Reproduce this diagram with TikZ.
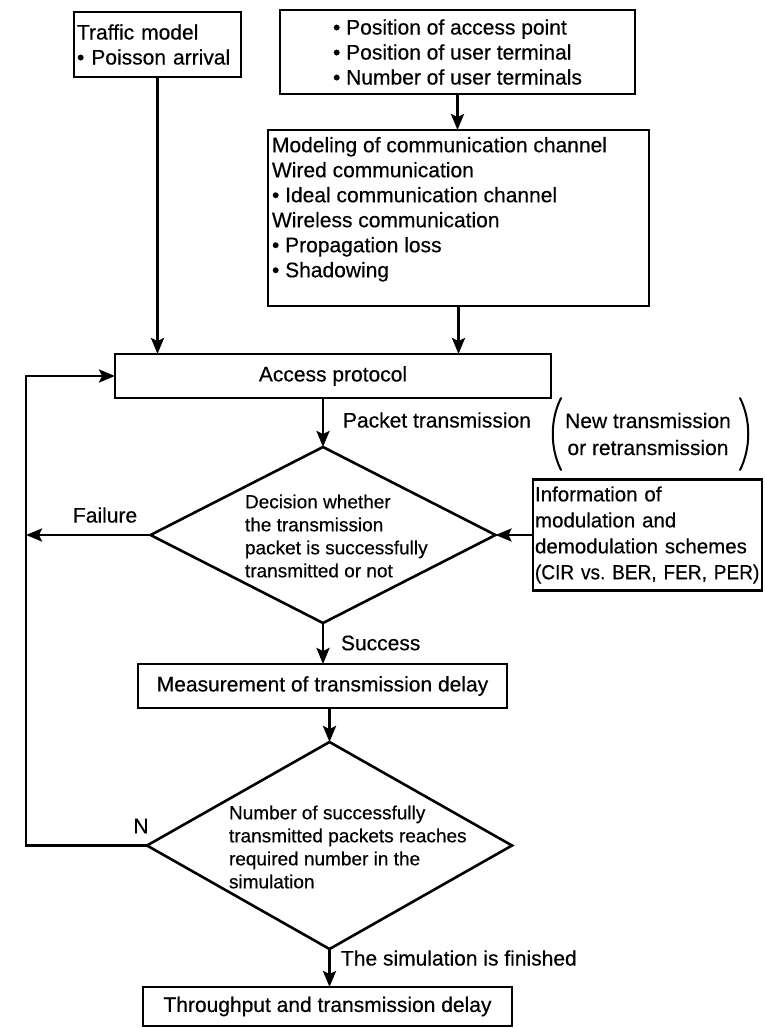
\documentclass[tikz,border=0pt]{standalone}
\usepackage{fontspec}
\setmainfont{Liberation Sans}[FakeBold=0.4]
\newfontfamily\narrowsans{Liberation Sans}[FakeStretch=0.93,FakeBold=0.4]
\usetikzlibrary{arrows.meta,shapes.geometric}

\begin{document}
\frenchspacing
\begin{tikzpicture}[x=1pt,y=-1pt,
  every node/.style={inner sep=0pt, outer sep=0pt},
  bigtext/.style={font=\fontsize{21}{25}\selectfont},
  smalltext/.style={font=\fontsize{19}{23}\selectfont},
  box/.style={draw, line width=2.6pt, rectangle, bigtext},
  decisionbox/.style={draw, line width=2.6pt, diamond},
  flow/.style={line width=2.8pt, -{Stealth[length=16pt,width=13pt,inset=3pt]}},
  parenline/.style={line width=2pt, line cap=round}]

\useasboundingbox (0,0) rectangle (765,1028);

% boxes
\node[box, minimum width=167pt, minimum height=65pt, text width=161pt, align=left]
  (traffic) at (157.5,44.5) {Traffic model\\• Poisson arrival};
\node[box, minimum width=355pt, minimum height=84pt, align=left]
  (params) at (457.5,52) {• Position of access point\\• Position of user terminal\\• Number of user terminals};
\node[box, minimum width=381pt, minimum height=176pt, anchor=north west]
  (channel) at (268,130) {};
\node[bigtext, anchor=north west, align=left] (channeltext) at (272,137)
  {Modeling of communication channel\\Wired communication\\• Ideal communication channel\\Wireless communication\\• Propagation loss\\• Shadowing};
\node[box, minimum width=436pt, minimum height=44pt] (access) at (333,376) {Access protocol};

\node[decisionbox, minimum width=345pt, minimum height=176pt] (decision) at (323,535) {};
\node[smalltext, anchor=west, align=left] (decisiontext) at (245,536)
  {Decision whether\\the transmission\\packet is successfully\\transmitted or not};

\node[box, font=\fontsize{20.5}{26}\selectfont, minimum width=229pt, minimum height=111pt,
  text width=225pt, align=left] (info) at (647.5,535)
  {Information of\\modulation and\\demodulation schemes\\\mbox{\narrowsans (CIR vs. BER, FER, PER)}};

\node[box, minimum width=369pt, minimum height=44pt] (measure) at (322.5,686)
  {Measurement of transmission delay};

\node[decisionbox, minimum width=365pt, minimum height=207pt] (check) at (329.5,845.5) {};
\node[smalltext, anchor=west, align=left] (checktext) at (229,847)
  {Number of successfully\\transmitted packets reaches\\required number in the\\simulation};

\node[box, minimum width=369pt, minimum height=39pt] (result) at (327.5,1006.5)
  {Throughput and transmission delay};

% labels
\node[bigtext, anchor=west] (packetlbl) at (343,420) {Packet transmission};
\node[font=\fontsize{21}{27}\selectfont, align=center] (newlbl) at (648,434)
  {New transmission\\or retransmission};
\draw[parenline] (561,398) .. controls (550,420) and (550,448) .. (561,470);
\draw[parenline] (740,398) .. controls (751,420) and (751,448) .. (740,470);
\node[bigtext, anchor=west] (failurelbl) at (73,515) {Failure};
\node[bigtext, anchor=west] (successlbl) at (341,643) {Success};
\node[bigtext] (nlbl) at (141,826) {N};
\node[bigtext, anchor=west] (finishedlbl) at (341,958) {The simulation is finished};

% connectors
\coordinate (loopx) at (26,0);
\draw[flow] (traffic.south) -- (traffic.south |- access.north);
\draw[flow] (params.south) -- (params.south |- channel.north);
\draw[flow] (channel.south) -- (channel.south |- access.north);
\draw[flow] (decision.north |- access.south) -- (decision.north);
\draw[flow] (info.west) -- (decision.east);
\draw[flow] (decision.west) -- (decision.west -| loopx);
\draw[flow] (decision.south) -- (decision.south |- measure.north);
\draw[flow] (check.north |- measure.south) -- (check.north);
\draw[flow] (check.south) -- (check.south |- result.north);
\draw[flow] (check.west) -- (check.west -| loopx) |- (access.west);
\end{tikzpicture}
\end{document}
